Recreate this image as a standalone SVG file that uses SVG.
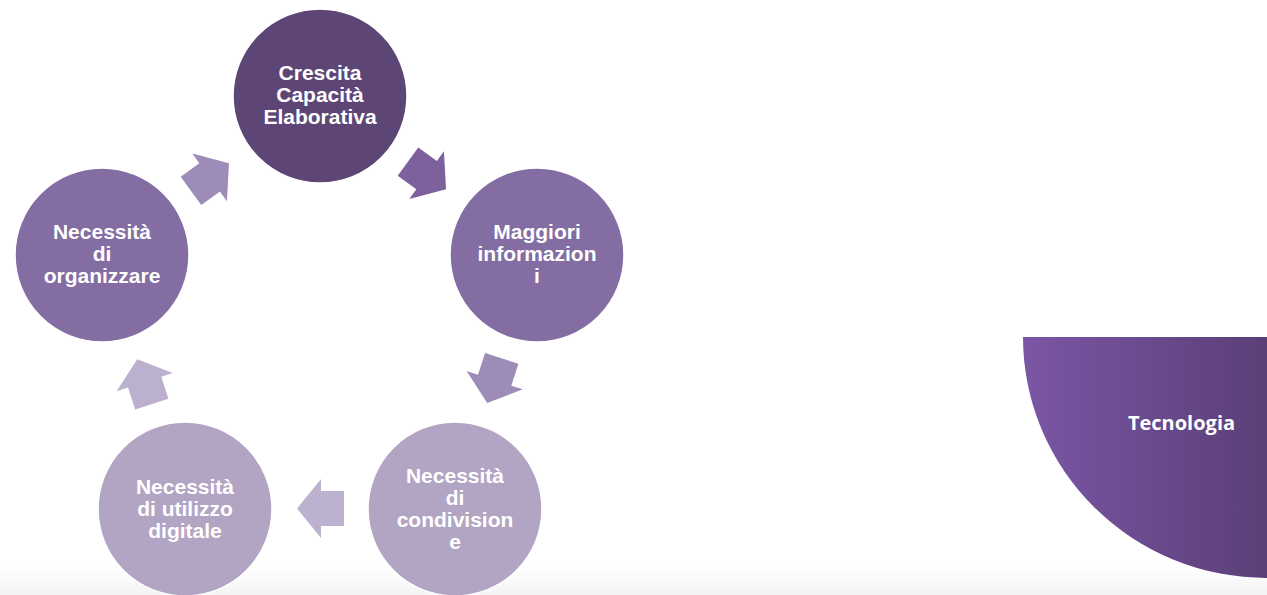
<svg xmlns="http://www.w3.org/2000/svg" width="1267" height="595" viewBox="0 0 1267 595">
  <defs>
    <linearGradient id="band" x1="0" y1="0" x2="0" y2="1">
      <stop offset="0" stop-color="#ffffff"/>
      <stop offset="1" stop-color="#f4f4f4"/>
    </linearGradient>
    <linearGradient id="tech" x1="0" y1="0" x2="1" y2="0">
      <stop offset="0" stop-color="#7b56a5"/>
      <stop offset="1" stop-color="#5a3f77"/>
    </linearGradient>
    <polygon id="arrow" points="-23.5,-17.5 -0.5,-17.5 -0.5,-29.5 23.5,0 -0.5,29.5 -0.5,17.5 -23.5,17.5"/>
  </defs>
  <style>
    .node { stroke: #ffffff; stroke-width: 1.5; }
    .lbl { font-family: "Liberation Sans", Arial, sans-serif; font-weight: bold; font-size: 21px; fill: #ffffff; text-anchor: middle; }
    .tech { font-family: "Open Sans", "Liberation Sans", sans-serif; font-weight: bold; font-size: 20px; fill: #ffffff; text-anchor: middle; }
  </style>
  <rect x="0" y="0" width="1267" height="595" fill="#ffffff"/>
  <rect x="0" y="566" width="1267" height="29" fill="url(#band)"/>

  <g id="connectors">
    <use href="#arrow" fill="#7d619d" transform="translate(427,175.5) rotate(36)"/>
    <use href="#arrow" fill="#9d8bb8" transform="translate(494.5,380.7) rotate(108)"/>
    <use href="#arrow" fill="#bcb2d0" transform="translate(320.5,508.5) rotate(180)"/>
    <use href="#arrow" fill="#bcb0cf" transform="translate(144.5,381.7) rotate(252)"/>
    <use href="#arrow" fill="#9d8cb8" transform="translate(210,177) rotate(324)"/>
  </g>

  <g id="node-crescita">
    <circle class="node" cx="320" cy="96" r="87" fill="#5d4675"/>
    <text class="lbl" x="320" y="80">Crescita</text>
    <text class="lbl" x="320" y="102">Capacità</text>
    <text class="lbl" x="320" y="124">Elaborativa</text>
  </g>
  <g id="node-maggiori">
    <circle class="node" cx="537" cy="255" r="87" fill="#846da2"/>
    <text class="lbl" x="537" y="239">Maggiori</text>
    <text class="lbl" x="537" y="261">informazion</text>
    <text class="lbl" x="537" y="283">i</text>
  </g>
  <g id="node-condivisione">
    <circle class="node" cx="455" cy="509" r="87" fill="#b2a4c3"/>
    <text class="lbl" x="455" y="483">Necessità</text>
    <text class="lbl" x="455" y="505">di</text>
    <text class="lbl" x="455" y="527">condivision</text>
    <text class="lbl" x="455" y="549">e</text>
  </g>
  <g id="node-digitale">
    <circle class="node" cx="185" cy="509" r="87" fill="#b2a4c3"/>
    <text class="lbl" x="185" y="494">Necessità</text>
    <text class="lbl" x="185" y="516">di utilizzo</text>
    <text class="lbl" x="185" y="538">digitale</text>
  </g>
  <g id="node-organizzare">
    <circle class="node" cx="102" cy="255" r="87" fill="#846da2"/>
    <text class="lbl" x="102" y="239">Necessità</text>
    <text class="lbl" x="102" y="261">di</text>
    <text class="lbl" x="102" y="283">organizzare</text>
  </g>

  <g id="node-tecnologia">
    <path d="M1023 337 L1267 337 L1267 578 A244 241 0 0 1 1023 337 Z" fill="url(#tech)"/>
    <text class="tech" x="1181.5" y="430">Tecnologia</text>
  </g>
</svg>
